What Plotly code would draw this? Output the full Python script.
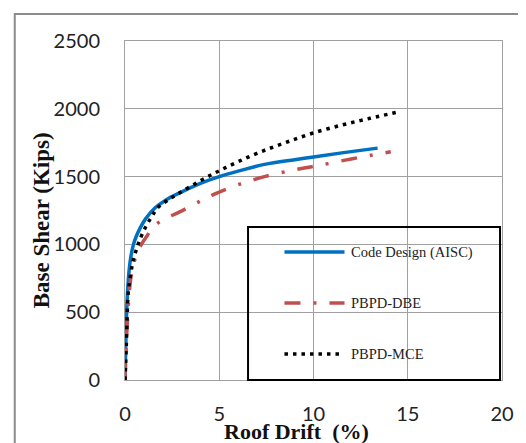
import plotly.graph_objects as go

# ---- data ----
code_x = [0, 0.05, 0.1, 0.2, 0.3, 0.45, 0.6, 0.8, 1.1, 1.6, 2.2, 2.9, 4, 5, 6, 7.4, 9, 10, 11.5, 13.4]
code_y = [0, 300, 550, 780, 900, 1000, 1060, 1120, 1190, 1270, 1330, 1380, 1450, 1500, 1540, 1590, 1625, 1645, 1675, 1710]

dbe_x = [0, 0.05, 0.1, 0.2, 0.35, 0.55, 0.87, 1.2, 1.5, 2.0, 2.9, 4, 4.9, 6, 7.4, 9, 10.2, 12, 14.1]
dbe_y = [0, 200, 360, 600, 790, 900, 1000, 1070, 1130, 1180, 1240, 1320, 1380, 1440, 1500, 1550, 1580, 1630, 1683]

mce_x = [0, 0.05, 0.09, 0.17, 0.3, 0.44, 0.6, 0.78, 1.1, 1.4, 1.7, 2.2, 2.9, 4, 5, 6, 7.2, 8.5, 9.9, 11.5, 13, 14.5]
mce_y = [0, 180, 344, 640, 780, 884, 960, 1032, 1130, 1200, 1265, 1320, 1380, 1470, 1543, 1610, 1683, 1750, 1818, 1880, 1930, 1977]

series_names = ["Code Design (AISC)", "PBPD-DBE", "PBPD-MCE"]
x_ticks = [0, 5, 10, 15, 20]
y_ticks = [0, 500, 1000, 1500, 2000, 2500]

BLUE = "#0070C0"
RED = "#C0504D"
BLACK = "#000000"
RED_DASH = "16px,13px,3px,13px"
DOT_DASH = "3.5px,5px"

# page is 526x443; the page body has an 8px margin, so the figure is 518x435
OFF = 8
W, H = 526 - OFF, 443 - OFF
PL, PR, PT, PB = 125, 508, 41, 380   # plot area in page pixels
ML, MT = PL - OFF, PT - OFF
MR, MB = 526 - PR, 443 - PB
PW = PR - PL
PH = PB - PT


def px(p):
    return (p - PL) / PW


def py(p):
    return (PB - p) / PH


fig = go.Figure()
fig.add_trace(go.Scatter(x=code_x, y=code_y, mode="lines", name=series_names[0],
                         line=dict(color=BLUE, width=3.5, shape="spline")))
fig.add_trace(go.Scatter(x=dbe_x, y=dbe_y, mode="lines", name=series_names[1],
                         line=dict(color=RED, width=3.5, dash=RED_DASH, shape="spline")))
fig.add_trace(go.Scatter(x=mce_x, y=mce_y, mode="lines", name=series_names[2],
                         line=dict(color=BLACK, width=3.5, dash=DOT_DASH, shape="spline")))

shapes = [
    # outer gray frame
    dict(type="rect", xref="paper", yref="paper", x0=px(13), x1=px(560), y0=py(470), y1=py(14),
         line=dict(color="#8c8c8c", width=2), layer="below"),
    # legend box
    dict(type="rect", xref="paper", yref="paper", x0=px(250), x1=px(506), y0=py(380), y1=py(227),
         line=dict(color="black", width=2)),
    dict(type="line", xref="paper", yref="paper", x0=px(287), x1=px(348), y0=py(252), y1=py(252),
         line=dict(color=BLUE, width=3.5)),
    dict(type="line", xref="paper", yref="paper", x0=px(287), x1=px(348), y0=py(303), y1=py(303),
         line=dict(color=RED, width=3.5, dash=RED_DASH)),
    dict(type="line", xref="paper", yref="paper", x0=px(287), x1=px(345), y0=py(354), y1=py(354),
         line=dict(color=BLACK, width=3.5, dash=DOT_DASH)),
]

legend_font = dict(family="Liberation Serif", size=14.5, color="#222")
annotations = [
    dict(text=series_names[0], x=px(353), y=py(252), xref="paper", yref="paper",
         xanchor="left", yanchor="middle", showarrow=False, font=legend_font),
    dict(text=series_names[1], x=px(353), y=py(303), xref="paper", yref="paper",
         xanchor="left", yanchor="middle", showarrow=False, font=legend_font),
    dict(text=series_names[2], x=px(353), y=py(354), xref="paper", yref="paper",
         xanchor="left", yanchor="middle", showarrow=False, font=legend_font),
    dict(text="<b>Roof Drift  (%)</b>", x=px(299), y=py(431), xref="paper", yref="paper",
         xanchor="center", yanchor="middle", showarrow=False,
         font=dict(family="Liberation Serif", size=22, color="#111")),
    dict(text="<b>Base Shear (Kips)</b>", x=px(40), y=py(220), xref="paper", yref="paper",
         xanchor="center", yanchor="middle", showarrow=False, textangle=-90,
         font=dict(family="Liberation Serif", size=23, color="#111")),
]

axis_common = dict(showgrid=True, gridcolor="#a0a0a0", gridwidth=1, showline=True,
                   linecolor="#a0a0a0", linewidth=1, mirror=True, zeroline=False,
                   ticks="", tickfont=dict(family="Lato", size=20, color="#222"))

fig.update_layout(
    width=W, height=H,
    margin=dict(l=ML, r=MR, t=MT, b=MB),
    paper_bgcolor="white", plot_bgcolor="white",
    showlegend=False,
    shapes=shapes, annotations=annotations,
    xaxis=dict(range=[0, 20], tickvals=x_ticks, ticklabelstandoff=16, **axis_common),
    yaxis=dict(range=[0, 2500], tickvals=y_ticks, ticklabelstandoff=20, **axis_common),
)

fig.write_html("out.html")
